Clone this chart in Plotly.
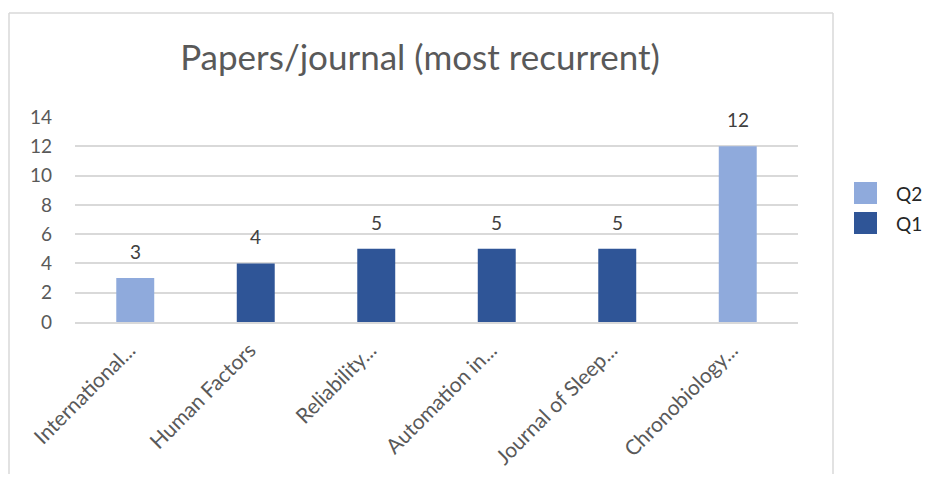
import plotly.graph_objects as go

categories = ["International...", "Human Factors", "Reliability...", "Automation in...",
              "Journal of Sleep...", "Chronobiology..."]
values = [3, 4, 5, 5, 5, 12]
quartiles = ["Q2", "Q1", "Q1", "Q1", "Q1", "Q2"]
series_order = ["Q2", "Q1"]
colors = {"Q2": "#8FAADC", "Q1": "#2F5597"}
y_ticks = [0, 2, 4, 6, 8, 10, 12, 14]

# page has an 8px body margin; work in figure pixel coords (page - 8)
OFF = 8
W, H = 932 - OFF, 482 - 2 * OFF
L, T = 75 - OFF, 117 - OFF
R = W - (798 - OFF)
B = H - (322 - OFF)
pw = W - L - R
ph = H - T - B

FONT = "Lato, Open Sans, sans-serif"
TXT = "#595959"


def px_x(px):  # page px -> paper
    return (px - OFF - L) / pw


def px_y(py):
    return (H - B - (py - OFF)) / ph


fig = go.Figure()
for i, q in enumerate(series_order):
    xs = [c for c, qq in zip(categories, quartiles) if qq == q]
    ys = [v for v, qq in zip(values, quartiles) if qq == q]
    fig.add_trace(go.Bar(
        x=xs, y=ys, name=q, marker_color=colors[q], marker_line_width=0,
        showlegend=False,
    ))
    # legend entry: swatch + label
    top = 182 + 30 * i
    fig.add_shape(type="rect", xref="paper", yref="paper",
                  x0=px_x(854), x1=px_x(877), y0=px_y(top + 22), y1=px_y(top),
                  fillcolor=colors[q], line_width=0)
    fig.add_annotation(xref="paper", yref="paper", x=px_x(895), y=px_y(top + 11),
                       xanchor="left", yanchor="middle", showarrow=False, text=q,
                       borderpad=0,
                       font=dict(size=19, color="#262626", family=FONT))

for c, v in zip(categories, values):
    fig.add_annotation(x=c, y=v, text=str(v), showarrow=False, yanchor="bottom",
                       yshift=13, font=dict(size=19, color="#404040", family=FONT))

border = dict(type="line", xref="paper", yref="paper",
              line=dict(color="#D9D9D9", width=1.5))
fig.add_shape(**border, x0=px_x(9), x1=px_x(9), y0=px_y(500), y1=px_y(13))
fig.add_shape(**border, x0=px_x(9), x1=px_x(833), y0=px_y(13), y1=px_y(13))
fig.add_shape(**border, x0=px_x(833), x1=px_x(833), y0=px_y(500), y1=px_y(13))

fig.update_layout(
    width=W, height=H,
    margin=dict(l=L, r=R, t=T, b=B, autoexpand=False),
    paper_bgcolor="white", plot_bgcolor="white",
    barmode="overlay", bargap=0.685, showlegend=False,
    font=dict(family=FONT, color=TXT),
    title=dict(text="Papers/journal (most recurrent)", x=(420 - OFF) / W, xanchor="center",
               y=1 - (58 - OFF) / H, yanchor="middle",
               font=dict(size=35, color=TXT, family=FONT)),
    xaxis=dict(categoryorder="array", categoryarray=categories, tickangle=-45,
               tickfont=dict(size=21, color=TXT, family=FONT),
               showline=True, linecolor="#D9D9D9", linewidth=1.5,
               ticks="", showgrid=False, automargin=False,
               ticklabelstandoff=6, ticklabelshift=-6),
    yaxis=dict(range=[0, 14], tickvals=y_ticks, showgrid=True, gridcolor="#D9D9D9",
               gridwidth=1.5, zeroline=False, ticks="", automargin=False,
               tickfont=dict(size=19, color=TXT, family=FONT), ticklabelstandoff=22),
)

fig.write_html("out.html")
